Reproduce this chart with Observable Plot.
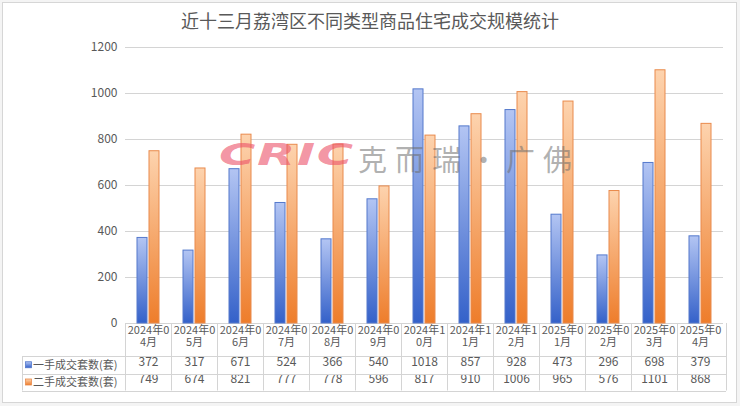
<!DOCTYPE html>
<html>
<head>
<meta charset="utf-8">
<script src="https://cdn.jsdelivr.net/npm/d3@7"></script>
<script src="https://cdn.jsdelivr.net/npm/@observablehq/plot@0.6"></script>
<style>
  html, body { margin: 0; padding: 0; background: #f4f4f4; }
  #wrap { position: relative; width: 740px; height: 406px; overflow: hidden; background: #f4f4f4; font-family: "Noto Sans CJK SC", sans-serif; }
  #panel { position: absolute; left: 2px; top: 2px; width: 733px; height: 399px; background: #fff; border: 1px solid #d6d6d6; }
  #title { position: absolute; left: 0; top: 0; width: 740px; height: 37px; line-height: 40px; text-align: center; font-size: 18px; color: #595959; }
  #chart { position: absolute; left: 0; top: 37px; }
  .wm { position: absolute; pointer-events: none; white-space: nowrap; }
  #wm1 { left: 219px; top: 136px; font-family: "DejaVu Sans", sans-serif; font-weight: 900; font-style: italic; font-size: 31px; color: rgba(236, 80, 104, 0.62); transform: scaleX(1.6); transform-origin: left center; letter-spacing: 1px; }
  #wm2 { left: 358px; top: 137px; font-family: "Noto Sans CJK SC", sans-serif; font-size: 29px; color: rgba(110, 110, 110, 0.55); letter-spacing: 8px; }
</style>
</head>
<body>
<div id="wrap">
  <div id="panel"></div>
  <div id="title">近十三月荔湾区不同类型商品住宅成交规模统计</div>
  <div id="chart"></div>
  <div class="wm" id="wm1">CRIC</div>
  <div class="wm" id="wm2">克而瑞·广佛</div>
</div>
<script>
const months = ["2024年04月","2024年05月","2024年06月","2024年07月","2024年08月","2024年09月","2024年10月","2024年11月","2024年12月","2025年01月","2025年02月","2025年03月","2025年04月"];
const firstHand = [372,317,671,524,366,540,1018,857,928,473,296,698,379];
const secondHand = [749,674,821,777,778,596,817,910,1006,965,576,1101,868];
const seriesNames = ["一手成交套数(套)","二手成交套数(套)"];
const yTicks = [0,200,400,600,800,1000,1200];

const table = months.map((m, i) => ({month: m, first: firstHand[i], second: secondHand[i]}));
const firstRows = table.map(d => ({month: d.month, series: seriesNames[0], value: d.first}));
const secondRows = table.map(d => ({month: d.month, series: seriesNames[1], value: d.second}));

const textColor = "#595959";
const lineColor = "#d4d4d4";

const chart = Plot.plot({
  width: 740,
  height: 369,
  marginTop: 10,
  marginLeft: 121,
  marginRight: 14,
  marginBottom: 83,
  style: {fontFamily: "'Noto Sans CJK SC', sans-serif", fontSize: "12px", color: textColor, background: "transparent", overflow: "visible"},
  fx: {domain: months, padding: 0, label: null, axis: null},
  x: {domain: seriesNames, paddingInner: 0.16, paddingOuter: 0.93, axis: null},
  y: {domain: [0, 1200], label: null, axis: null},
  marks: [
    Plot.gridY(yTicks, {stroke: lineColor, strokeOpacity: 1}),
    Plot.axisY(yTicks, {anchor: "left", tickSize: 0, tickPadding: 8, fontSize: 12, label: null, fill: textColor, tickFormat: d => String(d)}),
    // Excel-style wrapped category labels: first 6 characters, then the rest
    Plot.axisFx({anchor: "bottom", tickFormat: d => d.slice(0, 6), tickSize: 0, tickPadding: 2.5, fontSize: 11, label: null, fill: textColor}),
    Plot.axisFx({anchor: "bottom", tickFormat: d => d.slice(6), tickSize: 0, tickPadding: 14.5, fontSize: 11, label: null, fill: textColor}),
    Plot.barY(firstRows, {fx: "month", x: "series", y: "value", fill: "url(#gBlue)", stroke: "#5479cc", strokeWidth: 1}),
    Plot.barY(secondRows, {fx: "month", x: "series", y: "value", fill: "url(#gOrange)", stroke: "#e98a4c", strokeWidth: 1}),
    Plot.text(table, {fx: "month", text: d => String(d.first), frameAnchor: "bottom", dy: 42, fontSize: 12, fill: textColor}),
    Plot.text(table, {fx: "month", text: d => String(d.second), frameAnchor: "bottom", dy: 59, fontSize: 12, fill: textColor})
  ]
});

// gradients for bars
const svg = d3.select(chart);
const defs = svg.insert("defs", ":first-child");
function grad(id, top, bottom) {
  const g = defs.append("linearGradient").attr("id", id).attr("x1", 0).attr("y1", 0).attr("x2", 0).attr("y2", 1);
  g.append("stop").attr("offset", "0%").attr("stop-color", top);
  g.append("stop").attr("offset", "100%").attr("stop-color", bottom);
}
grad("gBlue", "#b3c5f3", "#3461c9");
grad("gOrange", "#fdd3ae", "#ee7d2b");

// data table grid and legend keys
const fx = chart.scale("fx");
const ys = chart.scale("y");
const xLeft = fx.range[0], xRight = fx.range[1];
const y0 = ys.apply(0);
const rowTop = y0 + 33, rowMid = y0 + 50.5, rowBot = y0 + 67.5;
const keyLeft = 22;
const tg = svg.append("g").attr("stroke", lineColor).attr("stroke-width", 1).attr("fill", "none");
for (const m of months) {
  const xb = Math.round(fx.apply(m)) + 0.5;
  tg.append("line").attr("x1", xb).attr("x2", xb).attr("y1", y0).attr("y2", rowBot);
}
tg.append("line").attr("x1", Math.round(xRight) + 0.5).attr("x2", Math.round(xRight) + 0.5).attr("y1", y0).attr("y2", rowBot);
tg.append("line").attr("x1", keyLeft + 0.5).attr("x2", keyLeft + 0.5).attr("y1", rowTop).attr("y2", rowBot);
for (const yy of [rowTop, rowMid, rowBot]) {
  tg.append("line").attr("x1", keyLeft).attr("x2", xRight).attr("y1", Math.round(yy) + 0.5).attr("y2", Math.round(yy) + 0.5);
}
const keys = [
  {name: seriesNames[0], fill: "url(#gBlue)", stroke: "#5479cc", cy: (rowTop + rowMid) / 2},
  {name: seriesNames[1], fill: "url(#gOrange)", stroke: "#e98a4c", cy: (rowMid + rowBot) / 2}
];
for (const k of keys) {
  svg.append("rect").attr("x", keyLeft + 3.5).attr("y", k.cy - 3).attr("width", 6).attr("height", 6)
    .attr("fill", k.fill).attr("stroke", k.stroke).attr("stroke-width", 0.8);
  svg.append("text").attr("x", keyLeft + 11).attr("y", k.cy).attr("dy", "0.35em")
    .attr("text-anchor", "start").attr("font-size", 11).attr("fill", textColor).text(k.name);
}

document.getElementById("chart").appendChild(chart);
</script>
</body>
</html>
